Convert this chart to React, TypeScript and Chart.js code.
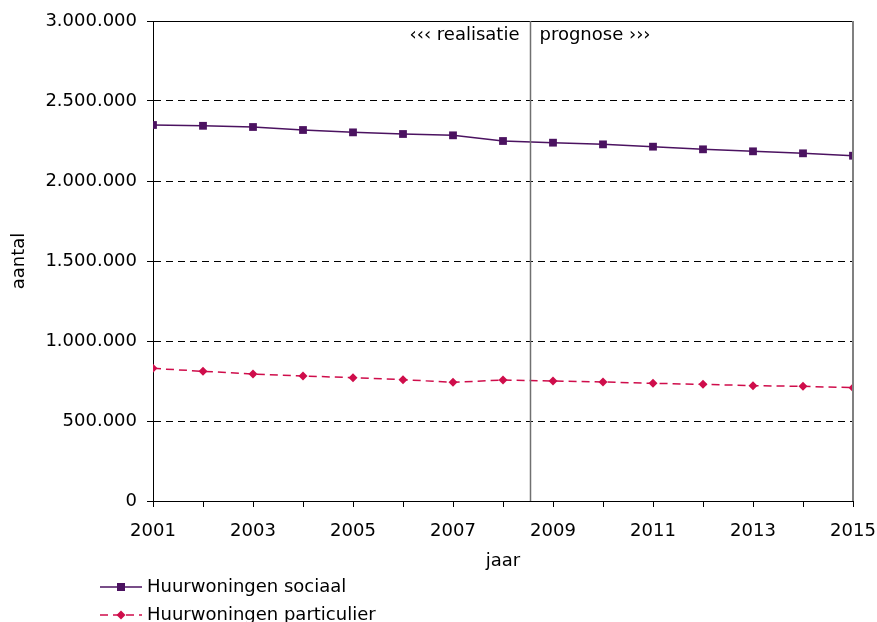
import React, { useEffect, useRef } from "react";
import { Chart, registerables } from "chart.js";

Chart.register(...registerables);

const years = [2001, 2002, 2003, 2004, 2005, 2006, 2007, 2008, 2009, 2010, 2011, 2012, 2013, 2014, 2015];
const sociaal = [2350000, 2345000, 2337500, 2318750, 2304000, 2293750, 2285500, 2250000, 2239500, 2229000, 2214500, 2198000, 2185500, 2173000, 2158000];
const particulier = [829000, 810500, 793750, 781250, 771000, 758500, 741500, 756250, 750000, 743750, 735500, 729000, 721000, 716500, 708500];
const seriesNames = ["Huurwoningen sociaal", "Huurwoningen particulier"];
const yTicks = { min: 0, max: 3000000, step: 500000 };
const splitYear = 2008.54;
const leftNote = "‹‹‹ realisatie";
const rightNote = "prognose ›››";
const xTitle = "jaar";
const yTitle = "aantal";

const FONT = "'DejaVu Sans', Verdana, sans-serif";
const SOC_COLOR = "#4b1260";
const PART_COLOR = "#cf0d4b";

function fmt(v: number): string {
  return String(Math.round(v)).replace(/\B(?=(\d{3})+(?!\d))/g, ".");
}

const decorPlugin = {
  id: "decor",
  afterDraw(chart: any) {
    const ctx = chart.ctx as CanvasRenderingContext2D;
    const { left, right, top, bottom } = chart.chartArea;
    const xs = chart.scales.x;
    ctx.save();
    // top solid line
    ctx.strokeStyle = "#000";
    ctx.lineWidth = 1;
    ctx.setLineDash([]);
    ctx.beginPath();
    ctx.moveTo(left, top + 0.5);
    ctx.lineTo(right, top + 0.5);
    ctx.stroke();
    // right border
    ctx.strokeStyle = "#808080";
    ctx.lineWidth = 2;
    ctx.beginPath();
    ctx.moveTo(right, top);
    ctx.lineTo(right, bottom);
    ctx.stroke();
    // split line
    const sx = Math.round(xs.getPixelForValue(splitYear)) + 0.5;
    ctx.lineWidth = 1.5;
    ctx.strokeStyle = "#707070";
    ctx.beginPath();
    ctx.moveTo(sx, top);
    ctx.lineTo(sx, bottom);
    ctx.stroke();
    // notes
    ctx.fillStyle = "#000";
    ctx.font = `18px ${FONT}`;
    ctx.textBaseline = "middle";
    ctx.textAlign = "right";
    ctx.fillText(leftNote, sx - 11, top + 14);
    ctx.textAlign = "left";
    ctx.fillText(rightNote, sx + 9, top + 14);
    // axis titles
    ctx.textAlign = "center";
    ctx.fillText(xTitle, (left + right) / 2, bottom + 60);
    ctx.save();
    ctx.translate(19, (top + bottom) / 2);
    ctx.rotate(-Math.PI / 2);
    ctx.fillText(yTitle, 0, 0);
    ctx.restore();
    // legend
    const items = chart.data.datasets;
    items.forEach((ds: any, i: number) => {
      const y = bottom + 86 + i * 28;
      ctx.strokeStyle = ds.borderColor;
      ctx.lineWidth = 1.5;
      ctx.setLineDash(ds.borderDash || []);
      ctx.beginPath();
      ctx.moveTo(100, y);
      ctx.lineTo(142, y);
      ctx.stroke();
      ctx.setLineDash([]);
      ctx.fillStyle = ds.pointBackgroundColor;
      ctx.beginPath();
      if (ds.pointStyle === "rect") {
        ctx.rect(121 - 4, y - 4, 8, 8);
      } else {
        ctx.moveTo(121, y - 4.5);
        ctx.lineTo(125.5, y);
        ctx.lineTo(121, y + 4.5);
        ctx.lineTo(116.5, y);
        ctx.closePath();
      }
      ctx.fill();
      ctx.fillStyle = "#000";
      ctx.textAlign = "left";
      ctx.fillText(ds.label, 147, y);
    });
    ctx.restore();
  },
};

export default function App() {
  const ref = useRef<HTMLCanvasElement | null>(null);
  useEffect(() => {
    document.body.style.margin = "0";
    const canvas = ref.current!;
    const chart = new Chart(canvas, {
      type: "line",
      data: {
        datasets: [
          {
            label: seriesNames[0],
            data: years.map((y, i) => ({ x: y, y: sociaal[i] })),
            borderColor: SOC_COLOR,
            backgroundColor: SOC_COLOR,
            pointBackgroundColor: SOC_COLOR,
            pointBorderColor: SOC_COLOR,
            pointStyle: "rect",
            pointRadius: 5.5,
            pointBorderWidth: 0,
            borderWidth: 1.5,
            tension: 0,
          },
          {
            label: seriesNames[1],
            data: years.map((y, i) => ({ x: y, y: particulier[i] })),
            borderColor: PART_COLOR,
            backgroundColor: PART_COLOR,
            pointBackgroundColor: PART_COLOR,
            pointBorderColor: PART_COLOR,
            pointStyle: "rectRot",
            pointRadius: 4.5,
            pointBorderWidth: 0,
            borderWidth: 1.5,
            borderDash: [8, 5],
            tension: 0,
          },
        ],
      },
      options: {
        animation: false,
        responsive: false,
        devicePixelRatio: 1,
        layout: { padding: { left: 0, right: 24, top: 21, bottom: 0 } },
        plugins: { legend: { display: false }, tooltip: { enabled: false } },
        scales: {
          x: {
            type: "linear",
            min: years[0],
            max: years[years.length - 1],
            afterFit: (s: any) => { s.height = 121; s.paddingLeft = 0; s.paddingRight = 0; },
            ticks: {
              stepSize: 1,
              autoSkip: false,
              maxRotation: 0,
              padding: 14,
              color: "#000",
              font: { family: FONT, size: 18 },
              callback: (v: any) => (Number(v) % 2 === 1 ? String(v) : ""),
            },
            grid: { drawOnChartArea: false, drawTicks: true, tickLength: 6, tickColor: "#000" },
            border: { color: "#000", width: 1 },
          },
          y: {
            min: yTicks.min,
            max: yTicks.max,
            afterFit: (s: any) => { s.width = 153; s.paddingTop = 0; s.paddingBottom = 0; },
            ticks: {
              stepSize: yTicks.step,
              padding: 10,
              color: "#000",
              font: { family: FONT, size: 18 },
              callback: (v: any) => fmt(Number(v)),
            },
            grid: { color: "#000", lineWidth: 1, tickLength: 6, tickColor: "#000", tickBorderDash: [] },
            border: { color: "#000", width: 1, dash: [7, 5] },
          },
        },
      },
      plugins: [decorPlugin],
    } as any);
    return () => chart.destroy();
  }, []);
  return <canvas ref={ref} width={877} height={622} style={{ display: "block" }} />;
}
